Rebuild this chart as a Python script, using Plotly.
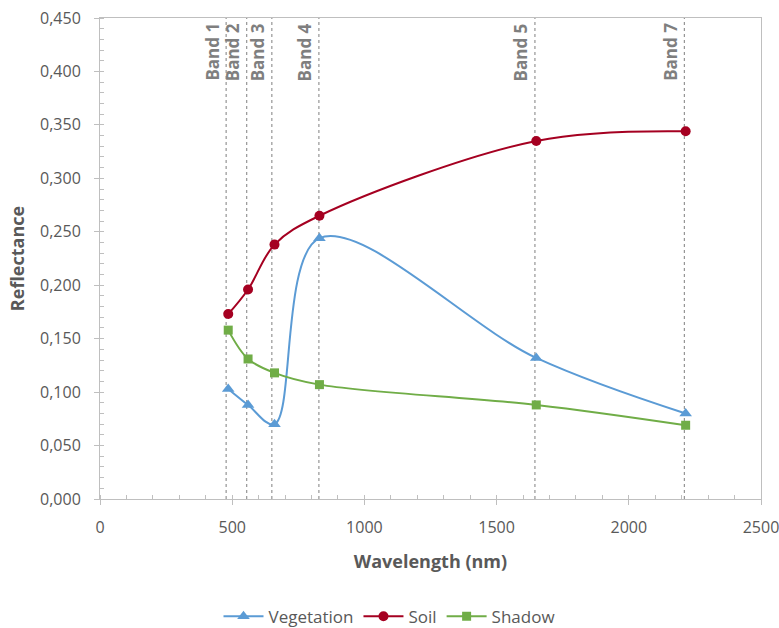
import plotly.graph_objects as go

wavelength = [485, 560, 660, 830, 1650, 2215]
vegetation = [0.103, 0.088, 0.070, 0.244, 0.132, 0.080]
soil = [0.173, 0.196, 0.238, 0.265, 0.335, 0.344]
shadow = [0.158, 0.131, 0.118, 0.107, 0.088, 0.069]
band_pos = [477, 555, 650, 828, 1645, 2210]
band_labels = ["Band 1", "Band 2", "Band 3", "Band 4", "Band 5", "Band 7"]

FONT = "Open Sans, Liberation Sans, sans-serif"

fig = go.Figure()

for bp in band_pos:
    fig.add_shape(type="line", x0=bp, x1=bp, y0=0, y1=0.45, xref="x", yref="y",
                  line=dict(color="#7f7f7f", width=1, dash="dot"), layer="below")

for bp, lab in zip(band_pos, band_labels):
    fig.add_annotation(x=bp, y=1, xref="x", yref="paper", text="<b>" + lab + "</b>",
                       textangle=-90, showarrow=False, xanchor="right", yanchor="top",
                       xshift=-1, yshift=-3,
                       font=dict(family=FONT, size=17, color="#7f7f7f"))

series = [
    ("Vegetation", vegetation, "#5B9BD5", "triangle-up", 11),
    ("Soil", soil, "#A50021", "circle", 10),
    ("Shadow", shadow, "#70AD47", "square", 9),
]
for name, vals, col, sym, sz in series:
    fig.add_trace(go.Scatter(x=wavelength, y=vals, name=name, mode="lines+markers",
                             line=dict(color=col, width=2, shape="spline", smoothing=1),
                             marker=dict(color=col, symbol=sym, size=sz)))

axis_font = dict(family=FONT, size=16, color="#595959")
title_font = dict(family=FONT, size=18, color="#595959")

fig.update_layout(
    width=779, height=628,
    margin=dict(l=100, r=18, t=18, b=129),
    plot_bgcolor="white", paper_bgcolor="white",
    separators=", ",
    showlegend=True,
    legend=dict(orientation="h", x=0.5, xref="container", xanchor="center",
                y=0.018, yref="container", yanchor="middle",
                itemwidth=40,
                font=dict(family=FONT, size=17, color="#595959")),
    xaxis=dict(range=[0, 2500], dtick=500, tick0=0, showgrid=False, zeroline=False,
               automargin=False, ticklabeloverflow="allow",
               showline=True, linecolor="#bfbfbf", linewidth=1, mirror=True,
               ticks="outside", ticklen=5, tickcolor="#bfbfbf", ticklabelstandoff=9,
               minor=dict(dtick=100, ticks="inside", ticklen=4, tickcolor="#bfbfbf", showgrid=False),
               tickfont=axis_font,
               title=dict(text="<b>Wavelength (nm)</b>", font=title_font, standoff=18)),
    yaxis=dict(range=[0, 0.45], dtick=0.05, tick0=0, tickformat=".3f", showgrid=False, zeroline=False,
               automargin=False, ticklabeloverflow="allow",
               showline=True, linecolor="#bfbfbf", linewidth=1, mirror=True,
               ticks="outside", ticklen=5, tickcolor="#bfbfbf", ticklabelstandoff=10,
               minor=dict(dtick=0.01, ticks="inside", ticklen=4, tickcolor="#bfbfbf", showgrid=False),
               tickfont=axis_font,
               title=dict(text="<b>Reflectance</b>", font=title_font, standoff=10)),
)

fig.write_html("out.html")
